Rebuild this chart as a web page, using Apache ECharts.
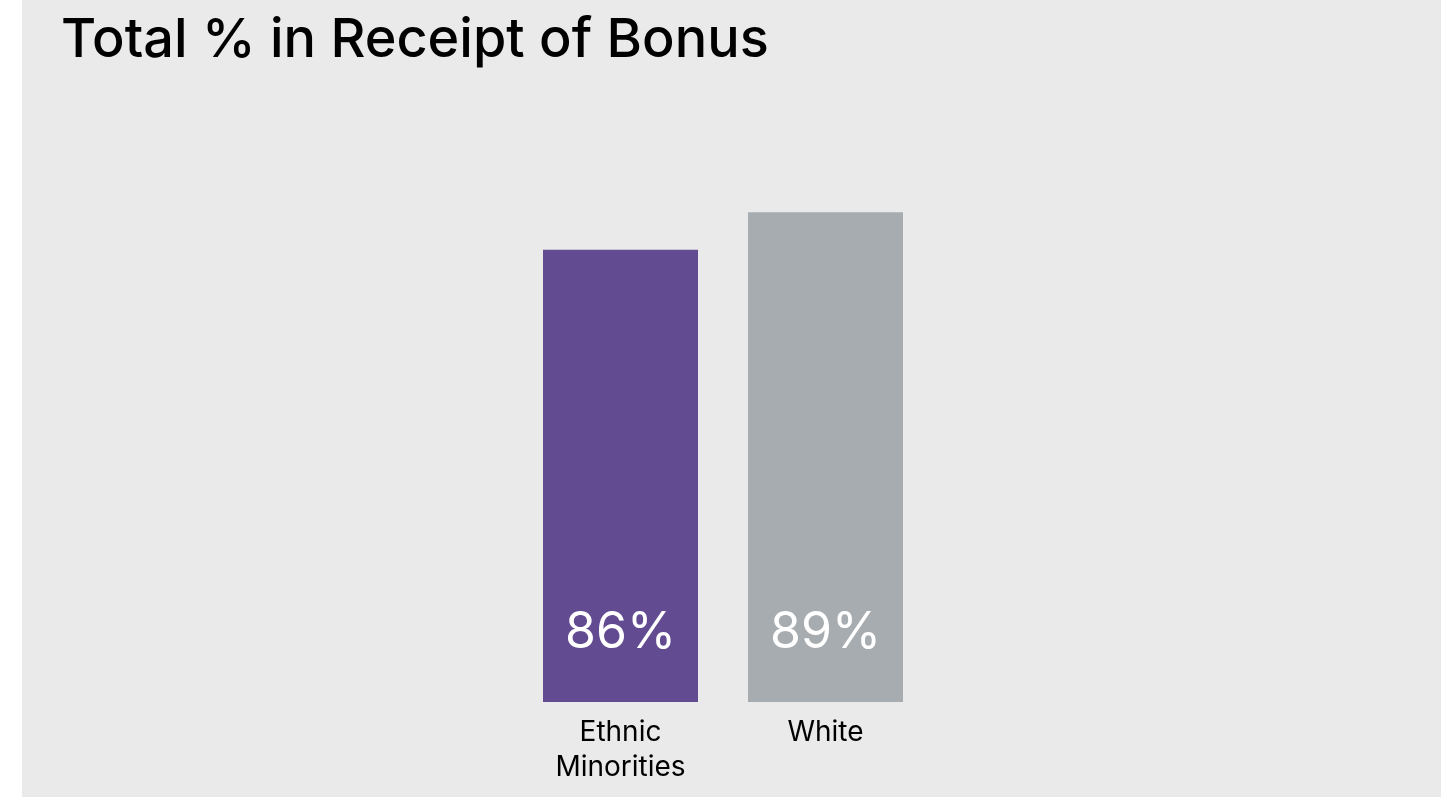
<!DOCTYPE html>
<html>
<head>
<meta charset="utf-8">
<script src="https://cdn.jsdelivr.net/npm/echarts@6/dist/echarts.min.js"></script>
<style>
  html, body { margin: 0; padding: 0; background: #ffffff; width: 1441px; height: 800px; overflow: hidden; }
  #chart { position: absolute; left: 22px; top: 0; width: 1419px; height: 797px; background: #eaeaea; }
</style>
</head>
<body>
<div id="chart"></div>
<script>
// Share of each group that received a bonus (%)
const categories = ['Ethnic\nMinorities', 'White'];
const values = [86, 89];
const barColors = ['#634b91', '#a6acaf'];

const chart = echarts.init(document.getElementById('chart'), null, { renderer: 'canvas' });

chart.setOption({
  backgroundColor: '#eaeaea',
  animation: false,
  title: {
    text: 'Total % in Receipt of Bonus',
    left: 34,
    top: 9,
    textStyle: {
      fontFamily: 'Inter',
      fontWeight: 500,
      fontSize: 54,
      color: '#000000'
    }
  },
  grid: {
    left: 496,
    width: 410,
    top: 74,
    bottom: 95,
    containLabel: false
  },
  xAxis: {
    type: 'category',
    data: categories,
    axisLine: { show: false },
    axisTick: { show: false },
    axisLabel: {
      margin: 13,
      fontFamily: 'Inter',
      fontSize: 28,
      lineHeight: 35,
      color: '#000000',
      align: 'center'
    }
  },
  yAxis: {
    type: 'value',
    min: 50,
    max: 100,
    show: false,
    splitLine: { show: false }
  },
  series: [{
    type: 'bar',
    barWidth: 155,
    data: values.map((v, i) => ({ value: v, itemStyle: { color: barColors[i] } })),
    label: {
      show: true,
      position: 'insideBottom',
      distance: 44,
      formatter: '{c}%',
      fontFamily: 'Inter',
      fontSize: 50,
      color: '#ffffff'
    }
  }]
});
</script>
</body>
</html>
